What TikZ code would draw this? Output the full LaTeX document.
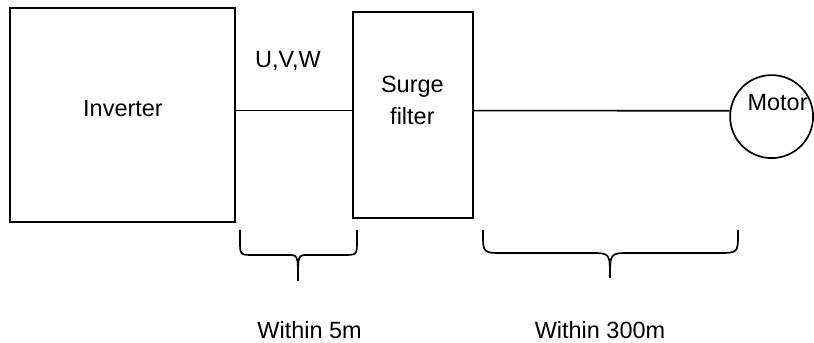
\documentclass[tikz,border=0pt]{standalone}
\usepackage{fontspec}
\setmainfont{Liberation Sans}
\usepackage{tikz}
\usetikzlibrary{calc}

\begin{document}
\begin{tikzpicture}[line width=1.2pt,
    block/.style={draw, rectangle, inner sep=0pt},
    lbl/.style={anchor=base, inner sep=0pt, font=\fontsize{16.7}{19}\selectfont}]
    \useasboundingbox (0,0) rectangle (20.35,8.575);
    % height of the wires
    \def\wy{5.81}
    % boxes
    \node[block, minimum width=5.625cm, minimum height=5.35cm] (inv) at (3.0625,5.7) {};
    \node[block, minimum width=3.0cm, minimum height=5.15cm] (sf) at (10.325,5.7) {};
    \node[draw, circle, minimum size=2.075cm, inner sep=0pt] (motor) at (19.29,5.66) {};
    % texts
    \node[lbl] (invtxt) at (3.075,5.65) {Inverter};
    \node[lbl] (sftxt1) at (10.31,6.25) {Surge};
    \node[lbl] (sftxt2) at (10.31,5.45) {filter};
    \node[lbl] (mtxt) at (19.44,5.8) {Motor};
    \node[lbl] (uvw) at (7.2,6.875) {U,V,W};
    % wires
    \coordinate (w) at (0,\wy);
    \draw (inv.east |- w) -- (sf.west |- w);
    \draw (sf.east |- w) -- (motor.172);
    % braces
    \draw (6.0,2.825) -- (6.0,2.55) .. controls (6.0,2.2) .. (6.35,2.2) -- (7.2,2.2)
        .. controls (7.45,2.2) .. (7.45,1.55);
    \draw (8.925,2.825) -- (8.925,2.55) .. controls (8.925,2.2) .. (8.575,2.2) -- (7.7,2.2)
        .. controls (7.45,2.2) .. (7.45,1.55);
    \draw (12.075,2.825) -- (12.075,2.75) .. controls (12.075,2.25) .. (12.575,2.25) -- (14.75,2.25)
        .. controls (15.25,2.25) .. (15.25,1.625);
    \draw (18.45,2.825) -- (18.45,2.75) .. controls (18.45,2.25) .. (17.95,2.25) -- (15.75,2.25)
        .. controls (15.25,2.25) .. (15.25,1.625);
    % lengths
    \node[lbl] (len1) at (7.74,0.1) {Within 5m};
    \node[lbl] (len2) at (15.0,0.1) {Within 300m};
\end{tikzpicture}
\end{document}
